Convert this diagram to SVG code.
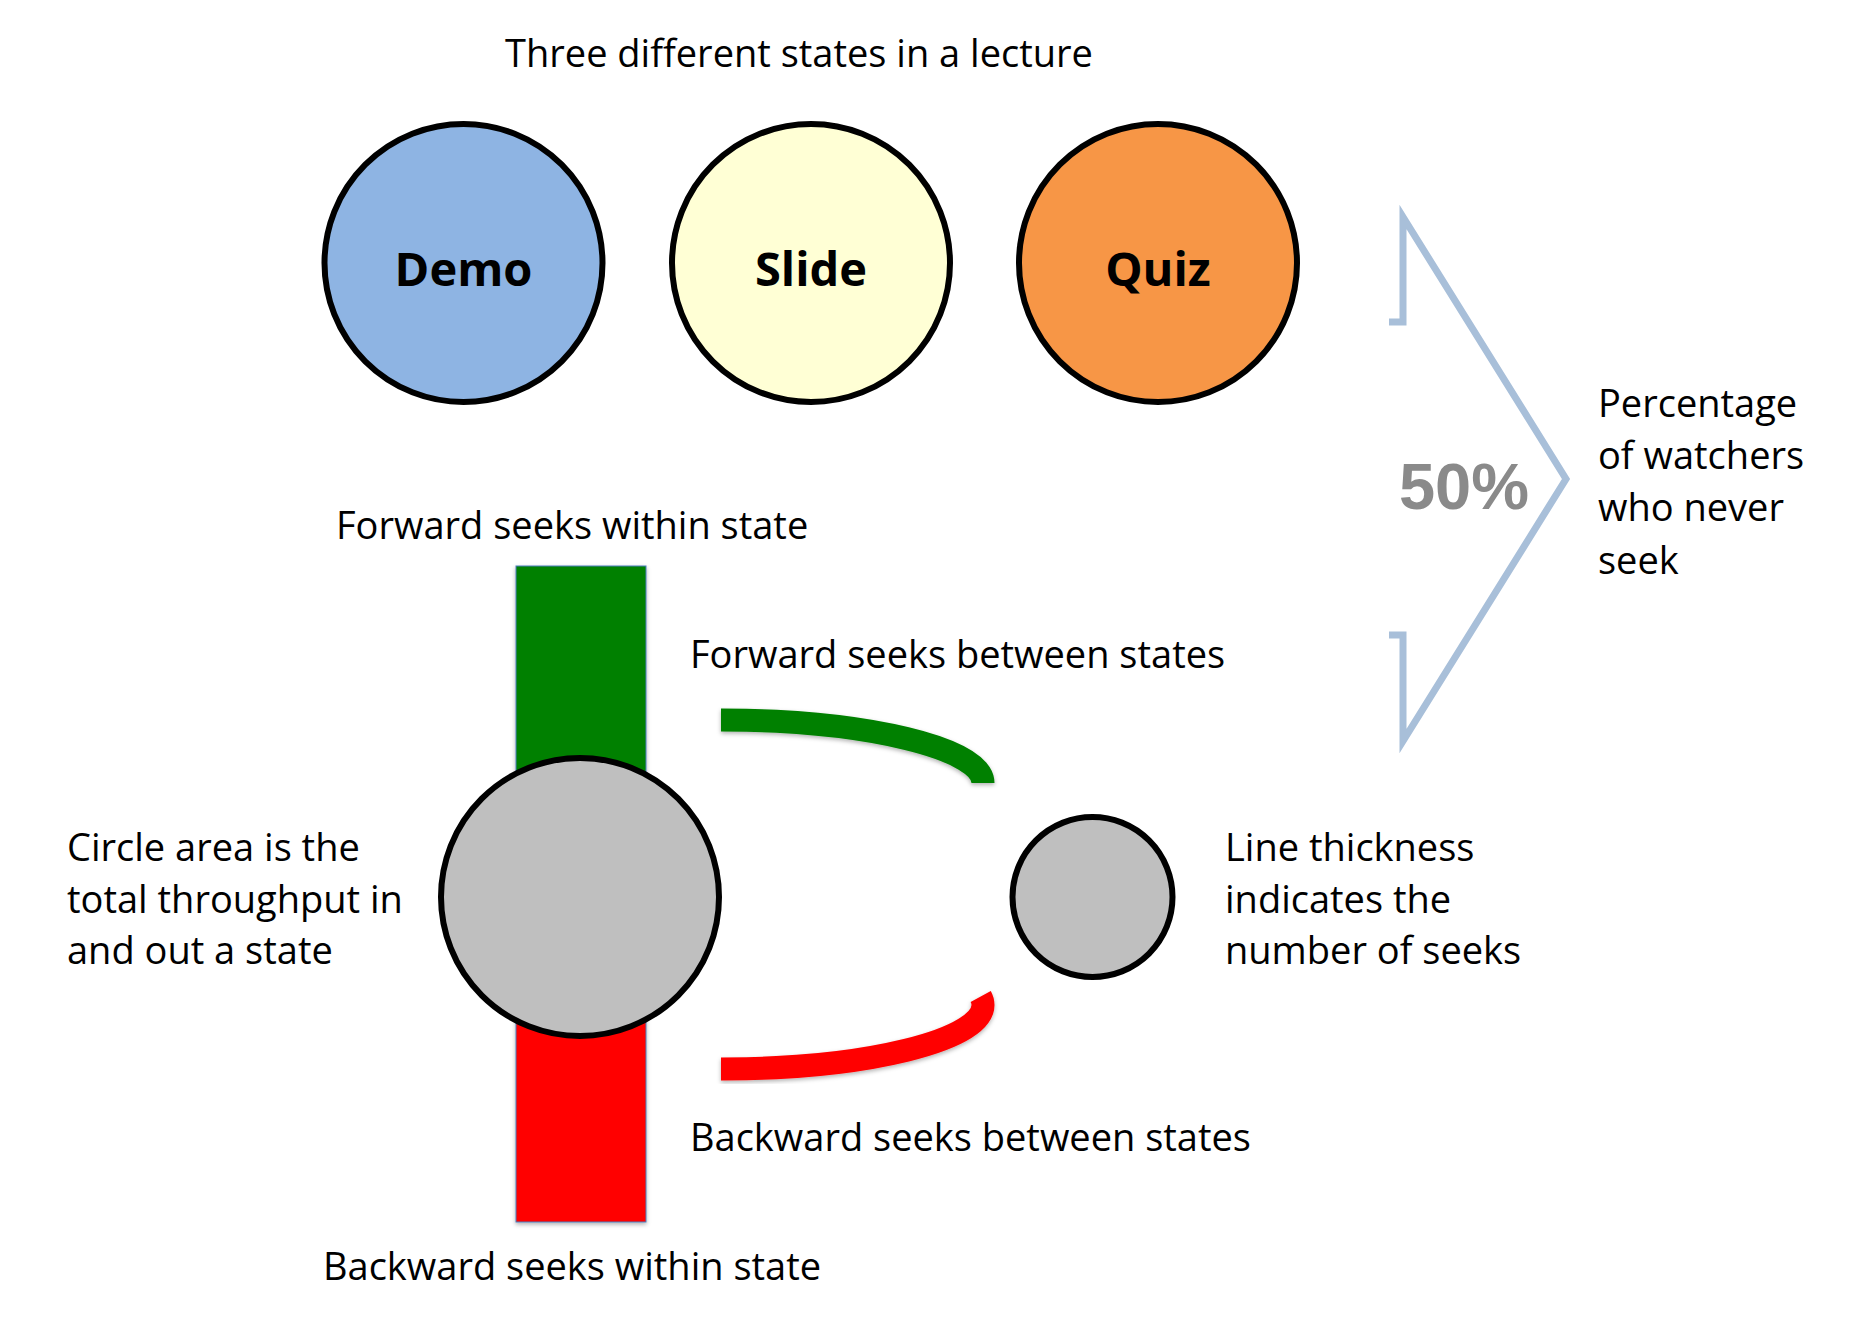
<svg xmlns="http://www.w3.org/2000/svg" width="1854" height="1325" viewBox="0 0 1854 1325">
  <defs>
    <style>
      .t { font-family: "Open Sans", "Noto Sans", "DejaVu Sans", sans-serif; font-size: 38px; fill: #000; }
      .b { font-family: "Open Sans", "Noto Sans", "DejaVu Sans", sans-serif; font-size: 47px; font-weight: 700; fill: #000; text-anchor: middle; }
      .state { stroke: #000; stroke-width: 6; }
      .bar { stroke: #4A7EBB; stroke-width: 1; }
      .band { fill: none; stroke-width: 23; stroke-linecap: butt; }
    </style>
    <filter id="sh" x="-20%" y="-20%" width="140%" height="140%">
      <feDropShadow dx="0" dy="2" stdDeviation="2" flood-color="#000" flood-opacity="0.3"/>
    </filter>
  </defs>
  <rect width="1854" height="1325" fill="#fff"/>

  <text class="t" x="799" y="67" text-anchor="middle">Three different states in a lecture</text>

  <g id="demo">
    <circle class="state" cx="463.5" cy="263" r="139" fill="#8EB4E3"/>
    <text class="b" x="463.5" y="286">Demo</text>
  </g>
  <g id="slide">
    <circle class="state" cx="811" cy="263" r="139" fill="#FFFFD5"/>
    <text class="b" x="811" y="286">Slide</text>
  </g>
  <g id="quiz">
    <circle class="state" cx="1158" cy="263" r="139" fill="#F79646"/>
    <text class="b" x="1158" y="286">Quiz</text>
  </g>

  <g id="never-seek">
    <polyline points="1389,322 1403,322 1403,217 1566,479 1403,741 1403,635 1389,635" fill="none" stroke="#A8BFD9" stroke-width="7" stroke-linejoin="miter" stroke-miterlimit="10"/>
    <text x="1464" y="509" text-anchor="middle" font-family="'Liberation Sans', Arial, sans-serif" font-size="65" font-weight="700" fill="#8A8A8A">50%</text>
    <text class="t" x="1598" y="417">Percentage</text>
    <text class="t" x="1598" y="469">of watchers</text>
    <text class="t" x="1598" y="521">who never</text>
    <text class="t" x="1598" y="574">seek</text>
  </g>

  <g id="forward-within">
    <rect class="bar" x="516" y="566" width="130" height="331" fill="#008000" filter="url(#sh)"/>
    <text class="t" x="336" y="539">Forward seeks within state</text>
  </g>
  <g id="backward-within">
    <rect class="bar" x="516" y="897" width="130" height="325" fill="#FF0000" filter="url(#sh)"/>
    <text class="t" x="323" y="1280">Backward seeks within state</text>
  </g>

  <g id="connectors">
    <path class="band" d="M721,720 A262,63 0 0 1 983,783" stroke="#008000" filter="url(#sh)"/>
    <path class="band" d="M721,1069 A262,64 0 0 0 983,1005 A262,64 0 0 0 980.7,996.5" stroke="#FF0000" filter="url(#sh)"/>
  </g>

  <g id="big-state">
    <circle class="state" cx="580" cy="897" r="139" fill="#BFBFBF"/>
  </g>
  <g id="small-state">
    <circle class="state" cx="1092.5" cy="897" r="80" fill="#BFBFBF"/>
  </g>

  <g id="labels">
    <text class="t" x="690" y="668">Forward seeks between states</text>
    <text class="t" x="690" y="1151">Backward seeks between states</text>
    <text class="t" x="67" y="861">Circle area is the</text>
    <text class="t" x="67" y="913">total throughput in</text>
    <text class="t" x="67" y="964">and out a state</text>
    <text class="t" x="1225" y="861">Line thickness</text>
    <text class="t" x="1225" y="913">indicates the</text>
    <text class="t" x="1225" y="964">number of seeks</text>
  </g>
</svg>
